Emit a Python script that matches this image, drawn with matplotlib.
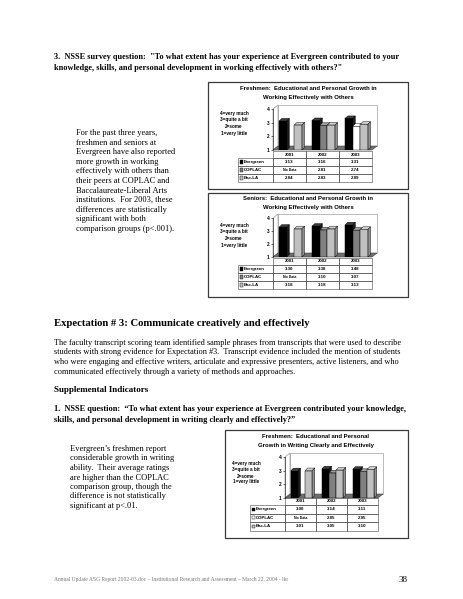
import matplotlib
matplotlib.use("Agg")
import matplotlib.pyplot as plt
from matplotlib.patches import Rectangle, Polygon
from matplotlib.colors import to_rgb

W, H = 463, 599

years = ["2001", "2002", "2003"]
groups = ["Evergreen", "COPLAC", "Bac-LA"]
scale_text = ["4=very much", "3=quite a bit", "2=some", "1=very little"]
yticks = [1, 2, 3, 4]

# freshmen - working effectively with others
fw_evergreen = [3.13, 3.16, 3.31]
fw_coplac = [None, 2.81, 2.74]
fw_bacla = [2.84, 2.83, 2.89]
# seniors - working effectively with others
sw_evergreen = [3.30, 3.38, 3.48]
sw_coplac = [None, 3.10, 3.07]
sw_bacla = [3.18, 3.18, 3.13]
# freshmen - writing clearly and effectively
fr_evergreen = [3.00, 3.14, 3.11]
fr_coplac = [None, 2.85, 2.95]
fr_bacla = [3.01, 3.05, 3.10]

q_top = ["3.  NSSE survey question:  \"To what extent has your experience at Evergreen contributed to your",
         "knowledge, skills, and personal development in working effectively with others?\""]
para1 = ["For the past three years,", "freshmen and seniors at", "Evergreen have also reported",
         "more growth in working", "effectively with others than", "their peers at COPLAC and",
         "Baccalaureate-Liberal Arts", "institutions.  For 2003, these", "differences are statistically",
         "significant with both", "comparison groups (p<.001)."]
heading = "Expectation # 3: Communicate creatively and effectively"
para2 = ["The faculty transcript scoring team identified sample phrases from transcripts that were used to describe",
         "students with strong evidence for Expectation #3.  Transcript evidence included the mention of students",
         "who were engaging and effective writers, articulate and expressive presenters, active listeners, and who",
         "communicated effectively through a variety of methods and approaches."]
sub_head = "Supplemental Indicators"
q_write = ["1.  NSSE question:  \u201cTo what extent has your experience at Evergreen contributed your knowledge,",
           "skills, and personal development in writing clearly and effectively?\u201d"]
para3 = ["Evergreen\u2019s freshmen report", "considerable growth in writing", "ability.  Their average ratings",
         "are higher than the COPLAC", "comparison group, though the", "difference is not statistically",
         "significant at p<.01."]
footer = "Annual Update ASG Report 2002-03.doc \u2013 Institutional Research and Assessment \u2013 March 22, 2004 - lkr"
page_no = "38"

SERIF = "Liberation Serif"
SANS = "Liberation Sans"


def shade(c, f):
    r, g, b = to_rgb(c)
    if f > 1:
        return tuple(x + (1 - x) * (f - 1) for x in (r, g, b))
    return tuple(x * f for x in (r, g, b))


def write_lines(page, x, y0, step, rows, **kw):
    for i, t in enumerate(rows):
        page.text(x, y0 + i * step, t, va="center", ha="left", **kw)


def draw_chart(fig, page, lay, title, series, fills, swatches, hatches):
    bx0, by0, bx1, by1 = lay["box"]
    page.add_patch(Rectangle((bx0, by0), bx1 - bx0, by1 - by0, fill=False,
                             ec="#3a3a3a", lw=0.9))
    for t, y in zip(title, lay["title_y"]):
        page.text(lay["title_x"], y, t, ha="center", va="center", fontsize=4.3,
                  fontweight="bold", family=SANS)
    for i, t in enumerate(scale_text):
        page.text(lay["key_x"], lay["key_y"] + i * lay["key_step"], t, ha="center",
                  va="center", fontsize=3.3, fontweight="bold", family=SANS)

    ax0, ax1, y4, y1 = lay["ax"]
    ax = fig.add_axes([ax0 / W, 1 - y1 / H, (ax1 - ax0) / W, (y1 - y4) / H])
    ax.set_facecolor("none")
    ax.set_xlim(0, 3)
    ax.set_ylim(1, 4)
    pxx = 3 / (ax1 - ax0)
    pxy = 3 / (y1 - y4)
    wdx, wdy = 5 * pxx, 4 * pxy
    bdx, bdy = 2.5 * pxx, 2.5 * pxy
    # walls and floor
    ax.add_patch(Polygon([(wdx, 1 + wdy), (3 + wdx, 1 + wdy), (3 + wdx, 4 + wdy), (wdx, 4 + wdy)],
                         fc="white", ec="#888888", lw=0.4, clip_on=False, zorder=1))
    ax.add_patch(Polygon([(0, 1), (wdx, 1 + wdy), (wdx, 4 + wdy), (0, 4)],
                         fc="white", ec="#888888", lw=0.4, clip_on=False, zorder=1))
    ax.add_patch(Polygon([(0, 1), (3, 1), (3 + wdx, 1 + wdy), (wdx, 1 + wdy)],
                         fc="#6e6e6e", ec="#444444", lw=0.4, clip_on=False, zorder=1.5))
    offs = [0.19, 0.42, 0.65]
    bw = 0.23
    k = 0
    for i in range(3):
        for j, vals in enumerate(series):
            v = vals[i]
            if v is None:
                continue
            c = fills[j][i]
            x = i + offs[j]
            z = 3 + k * 0.01
            k += 1
            ax.bar(x, v - 1, width=bw, bottom=1, align="edge", color=c, edgecolor="black",
                   linewidth=0.35, zorder=z)
            ax.add_patch(Polygon([(x, v), (x + bw, v), (x + bw + bdx, v + bdy), (x + bdx, v + bdy)],
                                 fc=shade(c, 1.25) if c != "black" else "#3c3c3c", ec="black",
                                 lw=0.3, clip_on=False, zorder=z))
            ax.add_patch(Polygon([(x + bw, 1), (x + bw + bdx, 1 + bdy), (x + bw + bdx, v + bdy), (x + bw, v)],
                                 fc=shade(c, 0.75) if c != "black" else "#1a1a1a", ec="black",
                                 lw=0.3, clip_on=False, zorder=z))
    for s in ["top", "right", "bottom"]:
        ax.spines[s].set_visible(False)
    ax.spines["left"].set_linewidth(0.4)
    ax.set_xticks([])
    ax.set_yticks(yticks)
    ax.set_yticklabels([str(t) for t in yticks], fontsize=3.4, fontweight="bold", family=SANS)
    ax.tick_params(axis="y", length=1.5, width=0.4, pad=1)

    # data table under the plot
    cw = (ax1 - ax0) / 3
    hy0, hy1 = lay["head"]
    rh = lay["row_h"]
    tx = lay["tab_x"]
    for i, yr in enumerate(years):
        page.add_patch(Rectangle((ax0 + i * cw, hy0), cw, hy1 - hy0, fill=False, ec="#444444", lw=0.4))
        page.text(ax0 + (i + 0.5) * cw, (hy0 + hy1) / 2, yr, ha="center", va="center",
                  fontsize=3.2, fontweight="bold", family=SANS)
    for j, name in enumerate(groups):
        ry = hy1 + j * rh
        page.add_patch(Rectangle((tx, ry), ax0 - tx, rh, fill=False, ec="#444444", lw=0.4))
        page.add_patch(Rectangle((tx + 1.5, ry + rh / 2 - 1.6), 3.2, 3.2, fc=swatches[j], ec="black",
                                 lw=0.3, hatch=hatches[j]))
        page.text(tx + 6, ry + rh / 2, name, ha="left", va="center", fontsize=3.2,
                  fontweight="bold", family=SANS)
        for i in range(3):
            page.add_patch(Rectangle((ax0 + i * cw, ry), cw, rh, fill=False, ec="#444444", lw=0.4))
            v = series[j][i]
            if v is None:
                page.text(ax0 + (i + 0.5) * cw, ry + rh / 2, "No Data", ha="center", va="center",
                          fontsize=2.5, fontweight="bold", family=SANS)
            else:
                page.text(ax0 + (i + 0.5) * cw, ry + rh / 2, "%.2f" % v, ha="center", va="center",
                          fontsize=3.2, fontweight="bold", family=SANS)


plt.rcParams["hatch.linewidth"] = 0.3
fig = plt.figure(figsize=(W / 100, H / 100), dpi=100)
page = fig.add_axes([0, 0, 1, 1])
page.set_xlim(0, W)
page.set_ylim(H, 0)
page.axis("off")

write_lines(page, 54, 57, 11.5, q_top, fontsize=5.95, fontweight="bold", family=SERIF)
write_lines(page, 76, 133, 9.6, para1, fontsize=6.0, family=SERIF)
page.text(54, 324, heading, va="center", ha="left", fontsize=7.7, fontweight="bold", family=SERIF)
write_lines(page, 54, 343, 9.5, para2, fontsize=5.95, family=SERIF)
page.text(54, 390, sub_head, va="center", ha="left", fontsize=6.5, fontweight="bold", family=SERIF)
write_lines(page, 54, 409, 11, q_write, fontsize=5.95, fontweight="bold", family=SERIF)
write_lines(page, 70, 449, 9.5, para3, fontsize=6.0, family=SERIF)
page.text(54, 579, footer, va="center", ha="left", fontsize=4.0, color="#777777", family=SERIF)
page.text(408, 580, page_no, va="center", ha="right", fontsize=6.5, family=SERIF)

grey = "#808080"
light = "#c0c0c0"

c1 = dict(box=(208, 82, 408, 189), title_y=(89, 97), title_x=308, key_x=234, key_y=113,
          key_step=6.8, ax=(273, 372, 109, 150), tab_x=238, head=(151, 158), row_h=8)
c2 = dict(box=(208, 193, 408, 297), title_y=(199, 207), title_x=308, key_x=234, key_y=225,
          key_step=6.7, ax=(273, 372, 218, 257), tab_x=238, head=(258, 265), row_h=8)
c3 = dict(box=(225, 430, 408, 538), title_y=(436, 445), title_x=316, key_x=246, key_y=464,
          key_step=6, ax=(285, 378, 457, 498), tab_x=250, head=(498, 505), row_h=8.5)

draw_chart(fig, page, c1,
           ["Freshmen:  Educational and Personal Growth in", "Working Effectively with Others"],
           [fw_evergreen, fw_coplac, fw_bacla],
           [["black"] * 3, [grey, grey, "white"], [light] * 3],
           ["black", grey, light], [None, "....", None])
draw_chart(fig, page, c2,
           ["Seniors:  Educational and Personal Growth in", "Working Effectively with Others"],
           [sw_evergreen, sw_coplac, sw_bacla],
           [["black"] * 3, [grey] * 3, [light] * 3],
           ["black", grey, light], ["||", "++", None])
draw_chart(fig, page, c3,
           ["Freshmen:  Educational and Personal", "Growth in Writing Clearly and Effectively"],
           [fr_evergreen, fr_coplac, fr_bacla],
           [["black"] * 3, [grey] * 3, [light] * 3],
           ["black", "white", light], [None, None, None])

fig.savefig("out.png", dpi=100)
